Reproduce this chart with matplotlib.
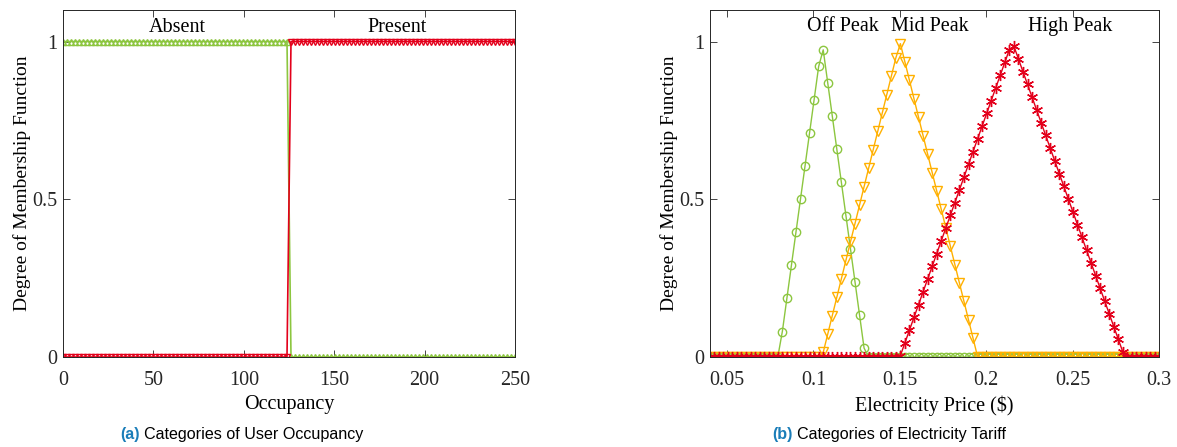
import matplotlib

matplotlib.use("Agg")
import matplotlib.pyplot as plt
import numpy as np

# membership function definitions
occ_grid = np.linspace(0, 250, 114)
occ_threshold = 125.0
occ_names = ["Absent", "Present"]
occ_label_x = [63, 185]

price_grid = np.linspace(0.04, 0.3, 100)
tariff_names = ["Off Peak", "Mid Peak", "High Peak"]
tariff_abc = [(0.08, 0.105, 0.13), (0.105, 0.15, 0.195), (0.15, 0.215, 0.28)]
tariff_label_x = [0.117, 0.1675, 0.2485]

GREEN = "#8CC63F"
RED = "#E3001B"
ORANGE = "#FFB000"
BLUE = "#1A7DB8"


def trimf(x, a, b, c):
    return np.clip(np.minimum((x - a) / (b - a), (c - x) / (c - b)), 0, 1)


plt.rcParams["font.family"] = ["Liberation Serif", "DejaVu Serif"]
plt.rcParams["mathtext.fontset"] = "stix"

FS = 14.5

fig = plt.figure(figsize=(11.77, 4.47), dpi=100)
ax1 = fig.add_axes([63 / 1177, 1 - 357 / 447, 452 / 1177, 347 / 447])
ax2 = fig.add_axes([709.7 / 1177, 1 - 357 / 447, 449.5 / 1177, 347 / 447])

absent = (occ_grid < occ_threshold).astype(float)
present = 1.0 - absent
ax1.plot(occ_grid, absent, color=GREEN, lw=1.2, marker="^", ms=5, mfc="none", mew=1.0)
ax1.plot(occ_grid, present, color=RED, lw=1.2, marker="v", ms=5, mfc="none", mew=1.0)
ax1.set_xlim(0, 250)
ax1.set_xticks([0, 50, 100, 150, 200, 250])
ax1.set_xlabel("Occupancy", fontsize=FS, labelpad=4)
for name, x in zip(occ_names, occ_label_x):
    ax1.text(x, 1.045, name, ha="center", va="center", fontsize=FS)

styles = [
    dict(color=GREEN, marker="o", ms=6),
    dict(color=ORANGE, marker="v", ms=7),
    dict(color=RED, marker=(6, 2, 0), ms=8),
]
for (a, b, c), st in zip(tariff_abc, styles):
    y = trimf(price_grid, a, b, c)
    ax2.plot(price_grid, y, color=st["color"], lw=1.0, marker=st["marker"], ms=st["ms"],
             mfc="none", mew=1.0)
ax2.set_xlim(0.04, 0.3)
ax2.set_xticks([0.05, 0.1, 0.15, 0.2, 0.25, 0.3])
ax2.set_xticklabels(["0.05", "0.1", "0.15", "0.2", "0.25", "0.3"])
ax2.set_xlabel("Electricity Price (\\$)", fontsize=FS, labelpad=4)
for name, x in zip(tariff_names, tariff_label_x):
    ax2.text(x, 1.048, name, ha="center", va="center", fontsize=FS)

for ax in (ax1, ax2):
    ax.set_ylim(0, 1.1)
    ax.set_yticks([0, 0.5, 1])
    ax.set_yticklabels(["0", "0.5", "1"])
    ax.set_ylabel("Degree of Membership Function", fontsize=14, labelpad=1)
    ax.tick_params(direction="in", top=True, right=True, length=5, width=0.6,
                   labelsize=FS, colors="#262626")
    ax.tick_params(axis="x", pad=10)
    ax.tick_params(axis="y", pad=4)
    for sp in ax.spines.values():
        sp.set_color("#262626")
        sp.set_linewidth(0.7)

cap = dict(fontsize=11.6, family=["Liberation Sans", "DejaVu Sans"], va="center")
fig.text(140 / 1177, 1 - 434 / 447, "(a)", ha="right", color=BLUE, fontweight="bold", **cap)
fig.text(144 / 1177, 1 - 434 / 447, "Categories of User Occupancy", ha="left", color="black", **cap)
fig.text(793 / 1177, 1 - 434 / 447, "(b)", ha="right", color=BLUE, fontweight="bold", **cap)
fig.text(797 / 1177, 1 - 434 / 447, "Categories of Electricity Tariff", ha="left", color="black", **cap)

fig.savefig("out.png", dpi=100)
